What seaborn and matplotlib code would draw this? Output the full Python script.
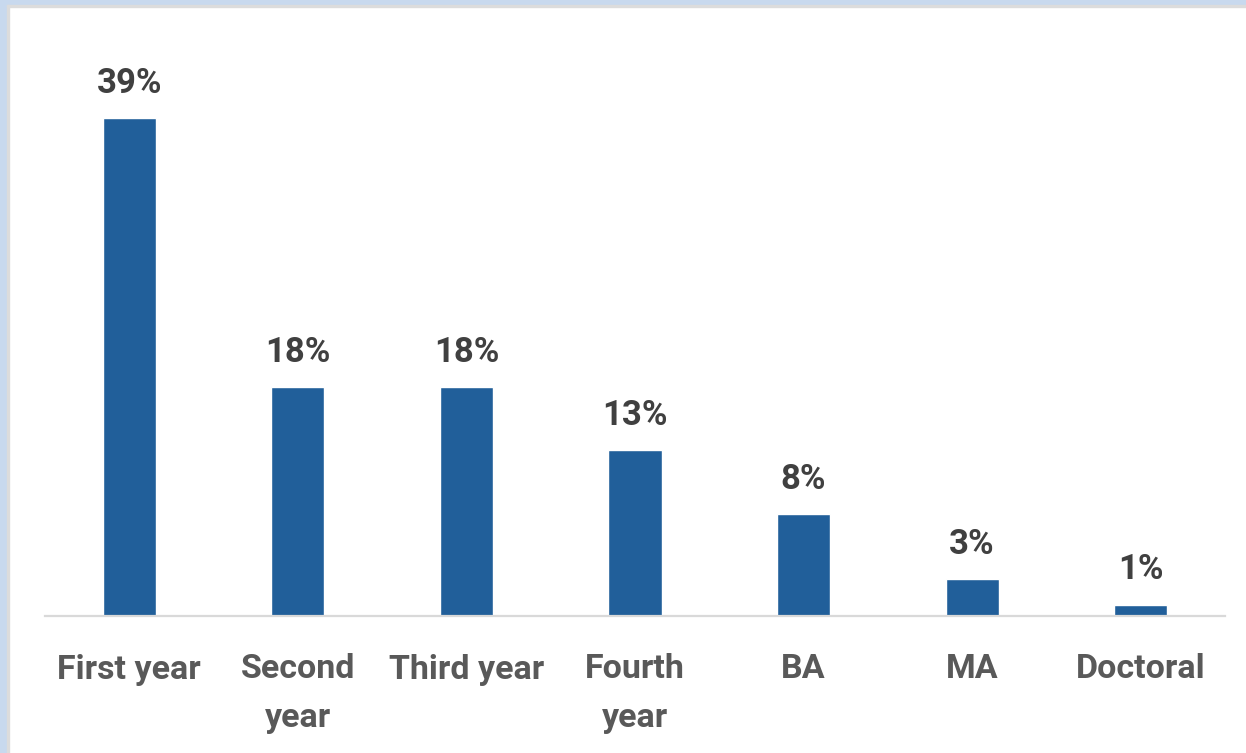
import matplotlib
matplotlib.use("Agg")
import matplotlib.pyplot as plt
import seaborn as sns
import pandas as pd
from matplotlib.patches import Rectangle

# data
levels = ["First year", "Second\nyear", "Third year", "Fourth\nyear", "BA", "MA", "Doctoral"]
shares = [39.1, 18.0, 18.0, 13.0, 8.0, 2.9, 0.9]

bar_color = "#215f9a"
label_color = "#404040"
tick_color = "#595959"

sns.set_theme(style="white")
plt.rcParams["font.family"] = ["Roboto", "DejaVu Sans"]

df = pd.DataFrame({"level": levels, "share": shares})

fig = plt.figure(figsize=(12.46, 7.53), dpi=100)
ax = fig.add_axes([45 / 1246, 1 - 616 / 753, 1180 / 1246, 586 / 753])

sns.barplot(data=df, x="level", y="share", color=bar_color, width=0.315,
            saturation=1, ax=ax)

ax.set_ylim(0, 586 / 12.74)
ax.set_xlim(-0.5, len(levels) - 0.5)
ax.bar_label(ax.containers[0], labels=[f"{v:.0f}%" for v in shares],
             padding=13, fontsize=25, fontweight="bold", color=label_color)

for s in ["top", "right", "left"]:
    ax.spines[s].set_visible(False)
ax.spines["bottom"].set_color("#d9d9d9")
ax.spines["bottom"].set_linewidth(1.6)
ax.set_yticks([])
ax.set_xlabel("")
ax.set_ylabel("")
ax.tick_params(axis="x", length=0, pad=27)
for t in ax.get_xticklabels():
    t.set_fontsize(24.5)
    t.set_fontweight("bold")
    t.set_color(tick_color)
    t.set_linespacing(1.65)

# light blue frame at the left and top edge
W, H = 1246, 753
fig.patches.append(Rectangle((0, 0), 7 / W, 1, transform=fig.transFigure,
                             color="#c8d9ee", zorder=0))
fig.patches.append(Rectangle((0, 1 - 5 / H), 1, 5 / H, transform=fig.transFigure,
                             color="#c8d9ee", zorder=0))
fig.patches.append(Rectangle((7 / W, 0), 2 / W, 1 - 5 / H, transform=fig.transFigure,
                             color="#dcdcdc", zorder=0))
fig.patches.append(Rectangle((7 / W, 1 - 7 / H), 1, 2 / H, transform=fig.transFigure,
                             color="#dcdcdc", zorder=0))

fig.savefig("out.png", dpi=100)
